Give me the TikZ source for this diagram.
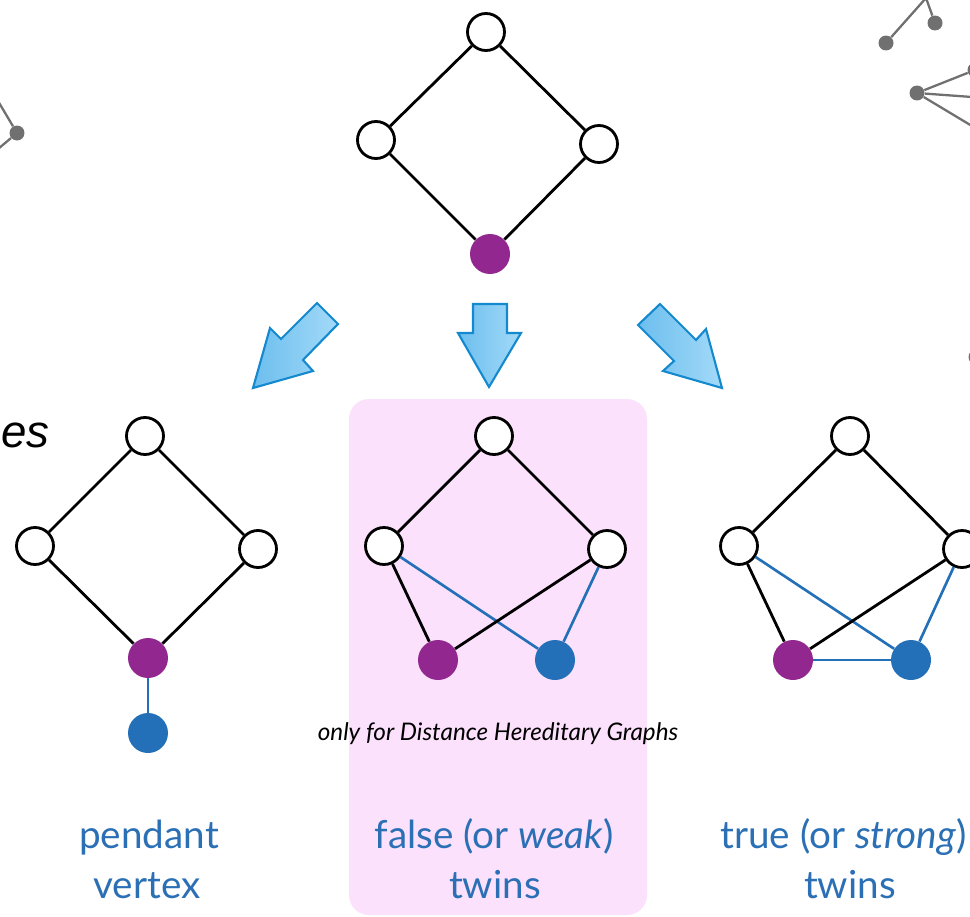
\documentclass[tikz,border=0pt]{standalone}
\usepackage{fontspec}
\setmainfont{Lato}
\newfontfamily\arialfont{Liberation Sans}
\definecolor{purp}{HTML}{92278F}
\definecolor{nblue}{HTML}{2470B8}
\definecolor{lblue}{HTML}{2B6FB5}
\definecolor{pinkbg}{HTML}{FBE1FC}
\definecolor{arrfill1}{HTML}{6CBEEE}
\definecolor{arrfill2}{HTML}{A3DAF8}
\definecolor{arredge}{HTML}{1589CE}
\definecolor{faint}{HTML}{707070}
\tikzset{
  wnode/.style={circle, draw=black, line width=1.6pt, fill=white, minimum size=0.74cm, inner sep=0pt},
  pnode/.style={circle, fill=purp, minimum size=0.8cm, inner sep=0pt},
  bnode/.style={circle, fill=nblue, minimum size=0.8cm, inner sep=0pt},
  gnode/.style={circle, fill=faint, minimum size=0.3cm, inner sep=0pt},
  kedge/.style={line width=1.6pt, black},
  bedge/.style={line width=1.5pt, nblue},
  gedge/.style={line width=1.3pt, faint},
  bigarrow/.style={line width=1.2pt, draw=arredge, left color=arrfill1, right color=arrfill2, line join=miter},
  lab/.style={font=\fontsize{22}{26}\selectfont, text=lblue, anchor=base, inner sep=0pt},
}
\begin{document}
\begin{tikzpicture}[x=0.02cm, y=-0.02cm]
\useasboundingbox (0,0) rectangle (970,916);

% highlighted column behind the false-twins case
\fill[pinkbg, rounded corners=0.4cm] (349,399) rectangle (647,915);

% faint graph fragments at the edges
\node[gnode] (g1) at (17,133) {};
\coordinate (g1a) at (-2,101);
\coordinate (g1b) at (-2,149);
\draw[gedge] (g1a) -- (g1) -- (g1b);
\node[gnode] (g2) at (886,43) {};
\node[gnode] (g3) at (935,23) {};
\coordinate (g23) at (926,-2);
\draw[gedge] (g2) -- (g23) -- (g3);
\node[gnode] (g4) at (917,93) {};
\node[gnode] (g5) at (975,70) {};
\coordinate (g6) at (972,97);
\coordinate (g7) at (972,126);
\draw[gedge] (g4) -- (g5);
\draw[gedge] (g4) -- (g6);
\draw[gedge] (g4) -- (g7);
\node[gnode] (g8) at (976,357) {};

% heading word
\node[font=\arialfont\itshape\fontsize{26}{30}\selectfont, anchor=base west, inner sep=0pt] (es) at (1,447) {es};

% top graph
\node[wnode] (t1) at (486,32) {};
\node[wnode] (t2) at (376,140) {};
\node[wnode] (t3) at (599,144) {};
\node[pnode] (t4) at (490,254) {};
\draw[kedge] (t1) -- (t2) -- (t4) -- (t3) -- (t1);

% block arrows
\draw[bigarrow] (253,388) -- (270,328) -- (281,339) -- (317,303) -- (338,324) -- (303,360) -- (313,371) -- cycle;
\draw[bigarrow] (489,387) -- (458,333) -- (473,333) -- (473,304) -- (507,304) -- (507,333) -- (521,333) -- cycle;
\draw[bigarrow] (722,388) -- (663,371) -- (674,361) -- (638,325) -- (660,304) -- (696,340) -- (706,329) -- cycle;

% pendant vertex
\node[wnode] (a1) at (145,436) {};
\node[wnode] (a2) at (35,546) {};
\node[wnode] (a3) at (258,549) {};
\node[pnode] (a4) at (148,658) {};
\node[bnode] (a5) at (148,733) {};
\draw[kedge] (a1) -- (a2) -- (a4) -- (a3) -- (a1);
\draw[bedge] (a4) -- (a5);

% false twins
\node[wnode] (b1) at (494,436) {};
\node[wnode] (b2) at (384,546) {};
\node[wnode] (b3) at (607,549) {};
\node[pnode] (b4) at (438,660) {};
\node[bnode] (b5) at (555,660) {};
\draw[kedge] (b2) -- (b1) -- (b3);
\draw[bedge] (b2) -- (b5);
\draw[bedge] (b3) -- (b5);
\draw[kedge] (b2) -- (b4);
\draw[kedge] (b3) -- (b4);

% true twins
\node[wnode] (c1) at (850,436) {};
\node[wnode] (c2) at (739,546) {};
\node[wnode] (c3) at (962,549) {};
\node[pnode] (c4) at (793,660) {};
\node[bnode] (c5) at (911,660) {};
\draw[kedge] (c2) -- (c1) -- (c3);
\draw[bedge] (c2) -- (c5);
\draw[bedge] (c3) -- (c5);
\draw[bedge] (c4) -- (c5);
\draw[kedge] (c2) -- (c4);
\draw[kedge] (c3) -- (c4);

% note and labels
\node[font=\itshape\fontsize{13.8}{16}\selectfont, anchor=base, inner sep=0pt] (note) at (498,740) {only for Distance Hereditary Graphs};
\node[lab] (l1a) at (149,848) {pendant};
\node[lab] (l1b) at (147,898) {vertex};
\node[lab] (l2a) at (494,848) {false (or \textit{weak})};
\node[lab] (l2b) at (495,898) {twins};
\node[lab, anchor=base east] (l3a) at (967,848) {true (or \textit{strong})};
\node[lab] (l3b) at (850,898) {twins};
\end{tikzpicture}
\end{document}
